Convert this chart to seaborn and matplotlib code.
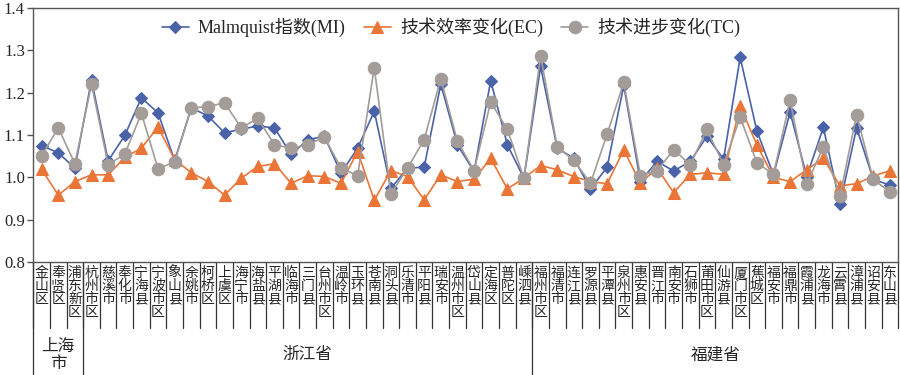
import numpy as np
import pandas as pd
import matplotlib
matplotlib.use('Agg')
import matplotlib.pyplot as plt
import matplotlib.transforms as mtransforms
import seaborn as sns

# --- data ---
regions = ['金山区', '奉贤区', '浦东新区',
           '杭州市区', '慈溪市', '奉化市', '宁海县', '宁波市区', '象山县', '余姚市',
           '柯桥区', '上虞区', '海宁市', '海盐县', '平湖县', '临海市', '三门县',
           '台州市区', '温岭市', '玉环县', '苍南县', '洞头县', '乐清市', '平阳县',
           '瑞安市', '温州市区', '岱山县', '定海区', '普陀区', '嵊泗县',
           '福州市区', '福清市', '连江县', '罗源县', '平潭县', '泉州市区', '惠安县',
           '晋江市', '南安市', '石狮市', '莆田市区', '仙游县', '厦门市区', '蕉城区',
           '福安市', '福鼎市', '霞浦县', '龙海市', '云霄县', '漳浦县', '诏安县', '东山县']
provinces = ['上海\n市', '浙江省', '福建省']
province_sizes = [3, 27, 22]

mi = [1.075, 1.058, 1.022, 1.230, 1.039, 1.099, 1.188, 1.152, 1.040, 1.164,
      1.145, 1.105, 1.114, 1.121, 1.117, 1.054, 1.089, 1.097, 1.010, 1.069,
      1.156, 0.974, 1.022, 1.024, 1.220, 1.077, 1.014, 1.228, 1.077, 0.998,
      1.262, 1.069, 1.045, 0.973, 1.024, 1.217, 0.990, 1.038, 1.015, 1.038,
      1.097, 1.043, 1.283, 1.110, 1.006, 1.154, 1.002, 1.118, 0.937, 1.117,
      0.995, 0.982]
ec = [1.019, 0.958, 0.990, 1.006, 1.006, 1.047, 1.069, 1.119, 1.042, 1.011,
      0.990, 0.958, 0.998, 1.026, 1.032, 0.986, 1.004, 1.002, 0.986, 1.061,
      0.946, 1.016, 1.002, 0.947, 1.006, 0.990, 0.996, 1.045, 0.973, 0.998,
      1.028, 1.018, 1.002, 0.990, 0.985, 1.065, 0.986, 1.022, 0.964, 1.007,
      1.011, 1.007, 1.168, 1.077, 1.000, 0.990, 1.018, 1.045, 0.980, 0.985,
      1.003, 1.016]
tc = [1.051, 1.117, 1.032, 1.220, 1.030, 1.055, 1.151, 1.020, 1.037, 1.164,
      1.167, 1.176, 1.117, 1.139, 1.077, 1.069, 1.077, 1.095, 1.022, 1.004,
      1.259, 0.961, 1.022, 1.089, 1.233, 1.085, 1.016, 1.178, 1.113, 0.998,
      1.287, 1.072, 1.040, 0.986, 1.102, 1.224, 1.004, 1.016, 1.065, 1.030,
      1.113, 1.030, 1.142, 1.035, 1.007, 1.182, 0.984, 1.072, 0.956, 1.148,
      0.995, 0.966]

series_names = ['Malmquist指数(MI)', '技术效率变化(EC)', '技术进步变化(TC)']
series_values = [mi, ec, tc]
colors = ['#4a62a8', '#eb7537', '#a39c98']
markers = ['D', '^', 'o']
msizes = [6, 8, 9]

df = pd.concat([pd.DataFrame({'region': regions, 'value': v, 'series': n})
                for n, v in zip(series_names, series_values)], ignore_index=True)

# --- plot ---
sns.set_style('white')
plt.rcParams['font.family'] = ['Liberation Serif', 'Noto Sans CJK SC']

fig = plt.figure(figsize=(9, 3.75), dpi=100)
ax = fig.add_axes([0.037, 0.301, 0.961, 0.678])

for name, col, mk, ms in zip(series_names, colors, markers, msizes):
    sub = df[df['series'] == name]
    sns.lineplot(data=sub, x='region', y='value', sort=False, color=col,
                 marker=mk, markersize=ms, markeredgecolor=col, linewidth=1.2,
                 label=name, ax=ax)

ax.set_xlim(-0.5, len(regions) - 0.5)
ax.set_ylim(0.8, 1.4)
ax.set_yticks(np.arange(0.8, 1.41, 0.1))
ax.set_yticklabels([f'{t:.1f}' for t in np.arange(0.8, 1.41, 0.1)], fontsize=12)
ax.set_xticks([])
ax.set_xlabel('')
ax.set_ylabel('')
ax.tick_params(axis='y', direction='out', length=4, width=1, color='#555555', pad=2, left=True)
for s in ax.spines.values():
    s.set_color('#555555')
    s.set_linewidth(1.0)

leg = ax.legend(loc='upper center', bbox_to_anchor=(0.483, 1.025), ncol=3, frameon=False,
                fontsize=13, handlelength=1.5, columnspacing=1.0, handletextpad=0.5)

# category labels below the axis, characters stacked vertically
trans = mtransforms.blended_transform_factory(ax.transData, ax.transAxes)
for i, r in enumerate(regions):
    ax.text(i, -0.015, '\n'.join(r), transform=trans, ha='center', va='top',
            fontsize=10, linespacing=0.92, family=['Noto Sans CJK SC'])

label_depth = -0.258
bottom_depth = -0.445
for i in range(len(regions) + 1):
    ax.plot([i - 0.5, i - 0.5], [0, label_depth], transform=trans, color='#333333',
            linewidth=0.9, clip_on=False)

# province groups
start = 0
for p, n in zip(provinces, province_sizes):
    ax.plot([start - 0.5, start - 0.5], [0, bottom_depth], transform=trans,
            color='#333333', linewidth=0.9, clip_on=False)
    ax.text(start + (n - 1) / 2, -0.365, p, transform=trans, ha='center', va='center',
            fontsize=12, linespacing=1.0, family=['Noto Sans CJK SC'])
    start += n

fig.savefig('out.png', dpi=100)
